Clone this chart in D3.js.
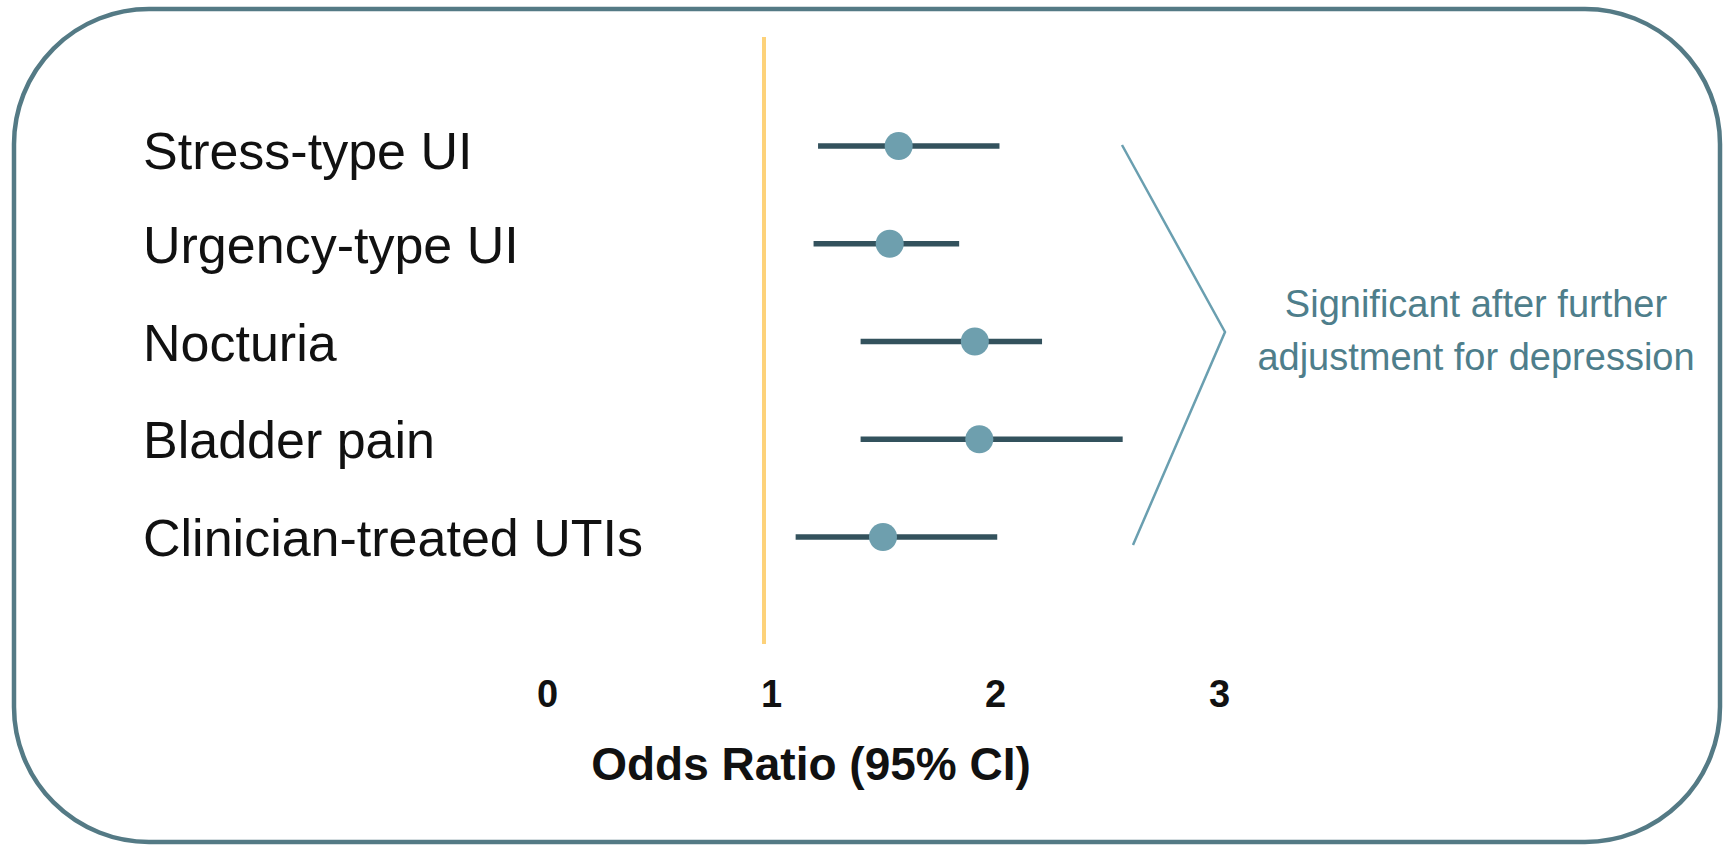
<!DOCTYPE html>
<html>
<head>
<meta charset="utf-8">
<script src="https://cdn.jsdelivr.net/npm/d3@7"></script>
<style>
html,body{margin:0;padding:0;background:#fff;}
svg{display:block;}
</style>
</head>
<body>
<script>
const categories = ["Stress-type UI","Urgency-type UI","Nocturia","Bladder pain","Clinician-treated UTIs"];
const oddsRatio = [1.57, 1.53, 1.91, 1.93, 1.50];
const ciLower   = [1.21, 1.19, 1.40, 1.40, 1.11];
const ciUpper   = [2.02, 1.84, 2.21, 2.57, 2.01];
const tickValues = [0, 1, 2, 3];
const xTitle = "Odds Ratio (95% CI)";
const noteLines = ["Significant after further", "adjustment for depression"];

const FONT = "Arial, 'Liberation Sans', Helvetica, sans-serif";
const W = 1726, H = 845;
const svg = d3.select("body").append("svg").attr("width", W).attr("height", H);

// frame
svg.append("rect").attr("x", 14).attr("y", 9).attr("width", 1706).attr("height", 833)
  .attr("rx", 135).attr("ry", 135)
  .attr("fill", "none").attr("stroke", "#547a85").attr("stroke-width", 4.5);

const x = d3.scaleLinear().domain([0, 3]).range([547, 1219]);
const y = d3.scalePoint().domain(categories).range([146, 537]);

// reference line at OR = 1
svg.append("line")
  .attr("x1", x(1) - 7).attr("x2", x(1) - 7)
  .attr("y1", 37).attr("y2", 644)
  .attr("stroke", "#fdd27a").attr("stroke-width", 4);

// category labels
svg.append("g").selectAll("text").data(categories).join("text")
  .attr("x", 143).attr("y", (d, i) => y(d) + 19 + (i === 0 ? 4 : 0))
  .attr("font-family", FONT)
  .attr("font-size", 52).attr("fill", "#111")
  .text(d => d);

const rows = categories.map((c, i) => ({c, or: oddsRatio[i], lo: ciLower[i], hi: ciUpper[i]}));

// CI bars
svg.append("g").selectAll("line").data(rows).join("line")
  .attr("x1", d => x(d.lo)).attr("x2", d => x(d.hi))
  .attr("y1", d => y(d.c)).attr("y2", d => y(d.c))
  .attr("stroke", "#33525d").attr("stroke-width", 5.5);

// points
svg.append("g").selectAll("circle").data(rows).join("circle")
  .attr("cx", d => x(d.or)).attr("cy", d => y(d.c)).attr("r", 14)
  .attr("fill", "#6e9fae");

// x axis tick labels
const axis = d3.axisBottom(x).tickValues(tickValues).tickSize(0).tickPadding(0).tickFormat(d3.format("d"));
const ax = svg.append("g").attr("transform", "translate(0,680)").call(axis);
ax.select(".domain").remove();
ax.selectAll("text")
  .attr("font-family", FONT)
  .attr("font-size", 38).attr("font-weight", "bold").attr("fill", "#111")
  .attr("dy", "0.71em");

// axis title
svg.append("text").attr("x", 811).attr("y", 780).attr("text-anchor", "middle")
  .attr("font-family", FONT)
  .attr("font-size", 46).attr("font-weight", "bold").attr("fill", "#111")
  .text(xTitle);

// chevron bracket
svg.append("path")
  .attr("d", d3.line()([[1122, 145], [1225, 332], [1133, 545]]))
  .attr("fill", "none").attr("stroke", "#6a9fb0").attr("stroke-width", 2.5);

// note
svg.append("g").selectAll("text").data(noteLines).join("text")
  .attr("x", 1476).attr("y", (d, i) => 317 + i * 53).attr("text-anchor", "middle")
  .attr("font-family", FONT)
  .attr("font-size", 38).attr("fill", "#4e7e8b")
  .text(d => d);
</script>
</body>
</html>
